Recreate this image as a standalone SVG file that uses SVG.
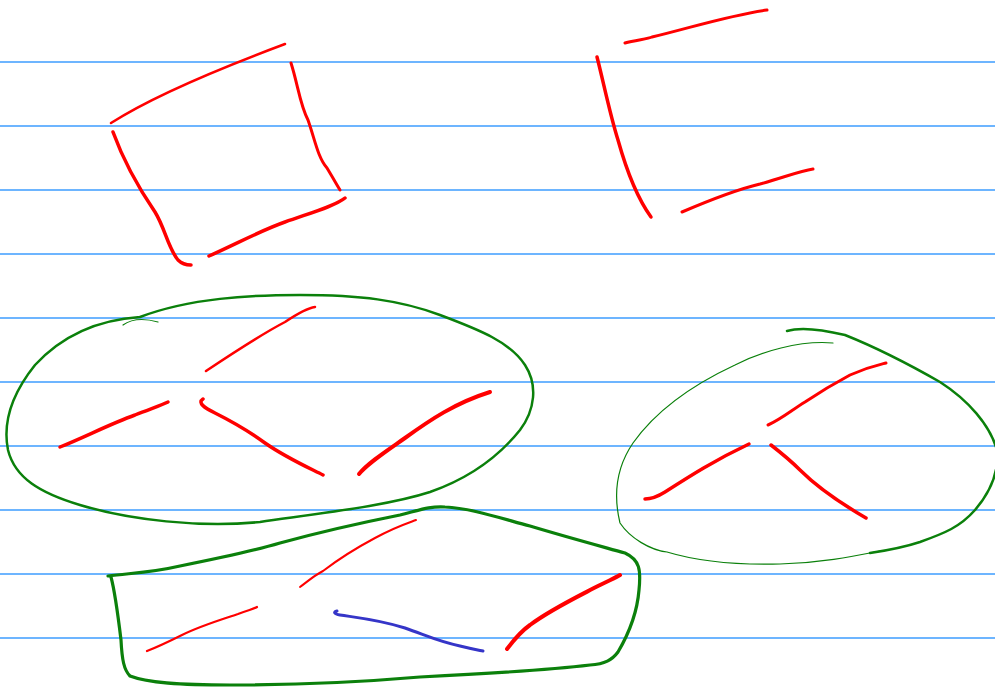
<svg xmlns="http://www.w3.org/2000/svg" width="995" height="688" viewBox="0 0 995 688">
<style>
.rule{stroke:#3d9cff;stroke-width:1.5}
path{fill:none;stroke-linecap:round;stroke-linejoin:round}
.r{stroke:#ff0000}
.g{stroke:#0b800b}
.b{stroke:#3535c8}
</style>
<rect width="995" height="688" fill="#ffffff"/>
<g id="rules">
<line class="rule" x1="0" y1="62" x2="995" y2="62"/>
<line class="rule" x1="0" y1="126" x2="995" y2="126"/>
<line class="rule" x1="0" y1="190" x2="995" y2="190"/>
<line class="rule" x1="0" y1="254" x2="995" y2="254"/>
<line class="rule" x1="0" y1="318" x2="995" y2="318"/>
<line class="rule" x1="0" y1="382" x2="995" y2="382"/>
<line class="rule" x1="0" y1="446" x2="995" y2="446"/>
<line class="rule" x1="0" y1="510" x2="995" y2="510"/>
<line class="rule" x1="0" y1="574" x2="995" y2="574"/>
<line class="rule" x1="0" y1="638" x2="995" y2="638"/>
</g>
<g id="square">
<path class="r" stroke-width="2.5" d="M111,123 C150,98 210,72 285,44"/>
<path class="r" stroke-width="3" d="M291,63 C298,85 300,105 308,120 C315,140 318,158 327,168 C333,178 337,185 340,190"/>
<path class="r" stroke-width="3.5" d="M113,132 C125,165 140,190 155,212 C165,228 168,248 178,260 C182,264 186,265 191,265"/>
<path class="r" stroke-width="3.5" d="M209,256 C240,242 262,230 285,222 C310,213 335,206 345,198"/>
</g>
<g id="bracket">
<path class="r" stroke-width="3" d="M625,43 C635,40 648,39 652,37 C690,28 730,15 767,10"/>
<path class="r" stroke-width="3.5" d="M597,57 C603,80 610,115 618,140 C625,165 635,195 651,217"/>
<path class="r" stroke-width="3" d="M682,212 C710,200 735,190 760,184 C785,177 800,171 813,169"/>
</g>
<g id="group-left">
<path class="g" stroke-width="1.2" d="M123,325 C130,320 140,317 158,322"/>
<path class="g" stroke-width="2.5" d="M140,317 C190,298 250,295 300,295 C360,295 400,300 440,315 C480,330 510,342 525,365 C538,385 535,410 520,430 C500,455 470,478 430,492 C390,505 330,512 260,522 C200,528 130,520 80,505 C40,493 15,478 8,450 C2,420 15,390 35,365 C60,338 95,320 140,317"/>
<path class="r" stroke-width="2.5" d="M206,371 C230,355 260,335 285,322 C300,312 308,308 315,307"/>
<path class="r" stroke-width="3.5" d="M60,447 C85,437 110,424 135,415 C150,409 162,405 168,402"/>
<path class="r" stroke-width="3.5" d="M203,399 C197,403 205,408 215,413 C235,423 250,432 265,443 C285,457 305,466 323,475"/>
<path class="r" stroke-width="4" d="M359,474 C368,463 385,452 405,438 C430,420 455,403 490,392"/>
</g>
<g id="group-right">
<path class="g" stroke-width="1.2" d="M833,343 C800,340 760,352 735,365 C690,386 655,412 633,443 C618,465 612,490 620,523 C630,538 650,550 667,552 C700,562 740,565 780,564 C820,563 850,557 880,551"/>
<path class="g" stroke-width="2.5" d="M787,331 C800,327 820,329 845,335 C870,345 905,362 940,382 C968,400 990,425 997,450 C999,470 992,490 975,510 C960,527 945,533 920,542 C905,547 890,550 870,553"/>
<path class="r" stroke-width="3" d="M768,425 C780,420 792,410 805,402 C820,392 835,383 850,375 C868,367 878,365 886,363"/>
<path class="r" stroke-width="3.5" d="M645,499 C652,499 657,497 665,492 C690,476 715,460 749,444"/>
<path class="r" stroke-width="3.5" d="M771,445 C780,452 790,460 800,470 C815,485 835,500 866,518"/>
</g>
<g id="group-bottom">
<path class="g" stroke-width="3.2" d="M108,576 C130,573 150,573 180,566 C220,558 250,552 280,543 C320,532 360,523 400,515 C420,510 430,506 445,507 C470,508 500,518 530,526 C570,538 600,546 625,553 C640,560 641,570 639,590 C637,615 628,635 618,652 C612,660 605,664 590,665 C540,671 480,674 420,677 C350,683 290,685 230,685 C180,685 148,683 130,676 C124,670 122,660 121,640 C118,615 115,592 111,577"/>
<path class="r" stroke-width="2" d="M300,587 C308,581 315,575 323,571 C340,558 360,546 375,538 C395,527 408,523 416,520"/>
<path class="r" stroke-width="2.2" d="M147,651 C160,646 170,641 182,635 C200,626 220,620 238,614 C248,610 254,609 257,607"/>
<path class="b" stroke-width="3" d="M337,611 C333,612 334,614 340,615 C360,618 380,620 405,628 C430,637 440,642 460,646 C472,649 478,650 483,651"/>
<path class="r" stroke-width="4" d="M507,649 C513,641 520,632 530,625 C550,610 575,598 598,586 C610,580 617,577 620,575"/>
</g>
</svg>
